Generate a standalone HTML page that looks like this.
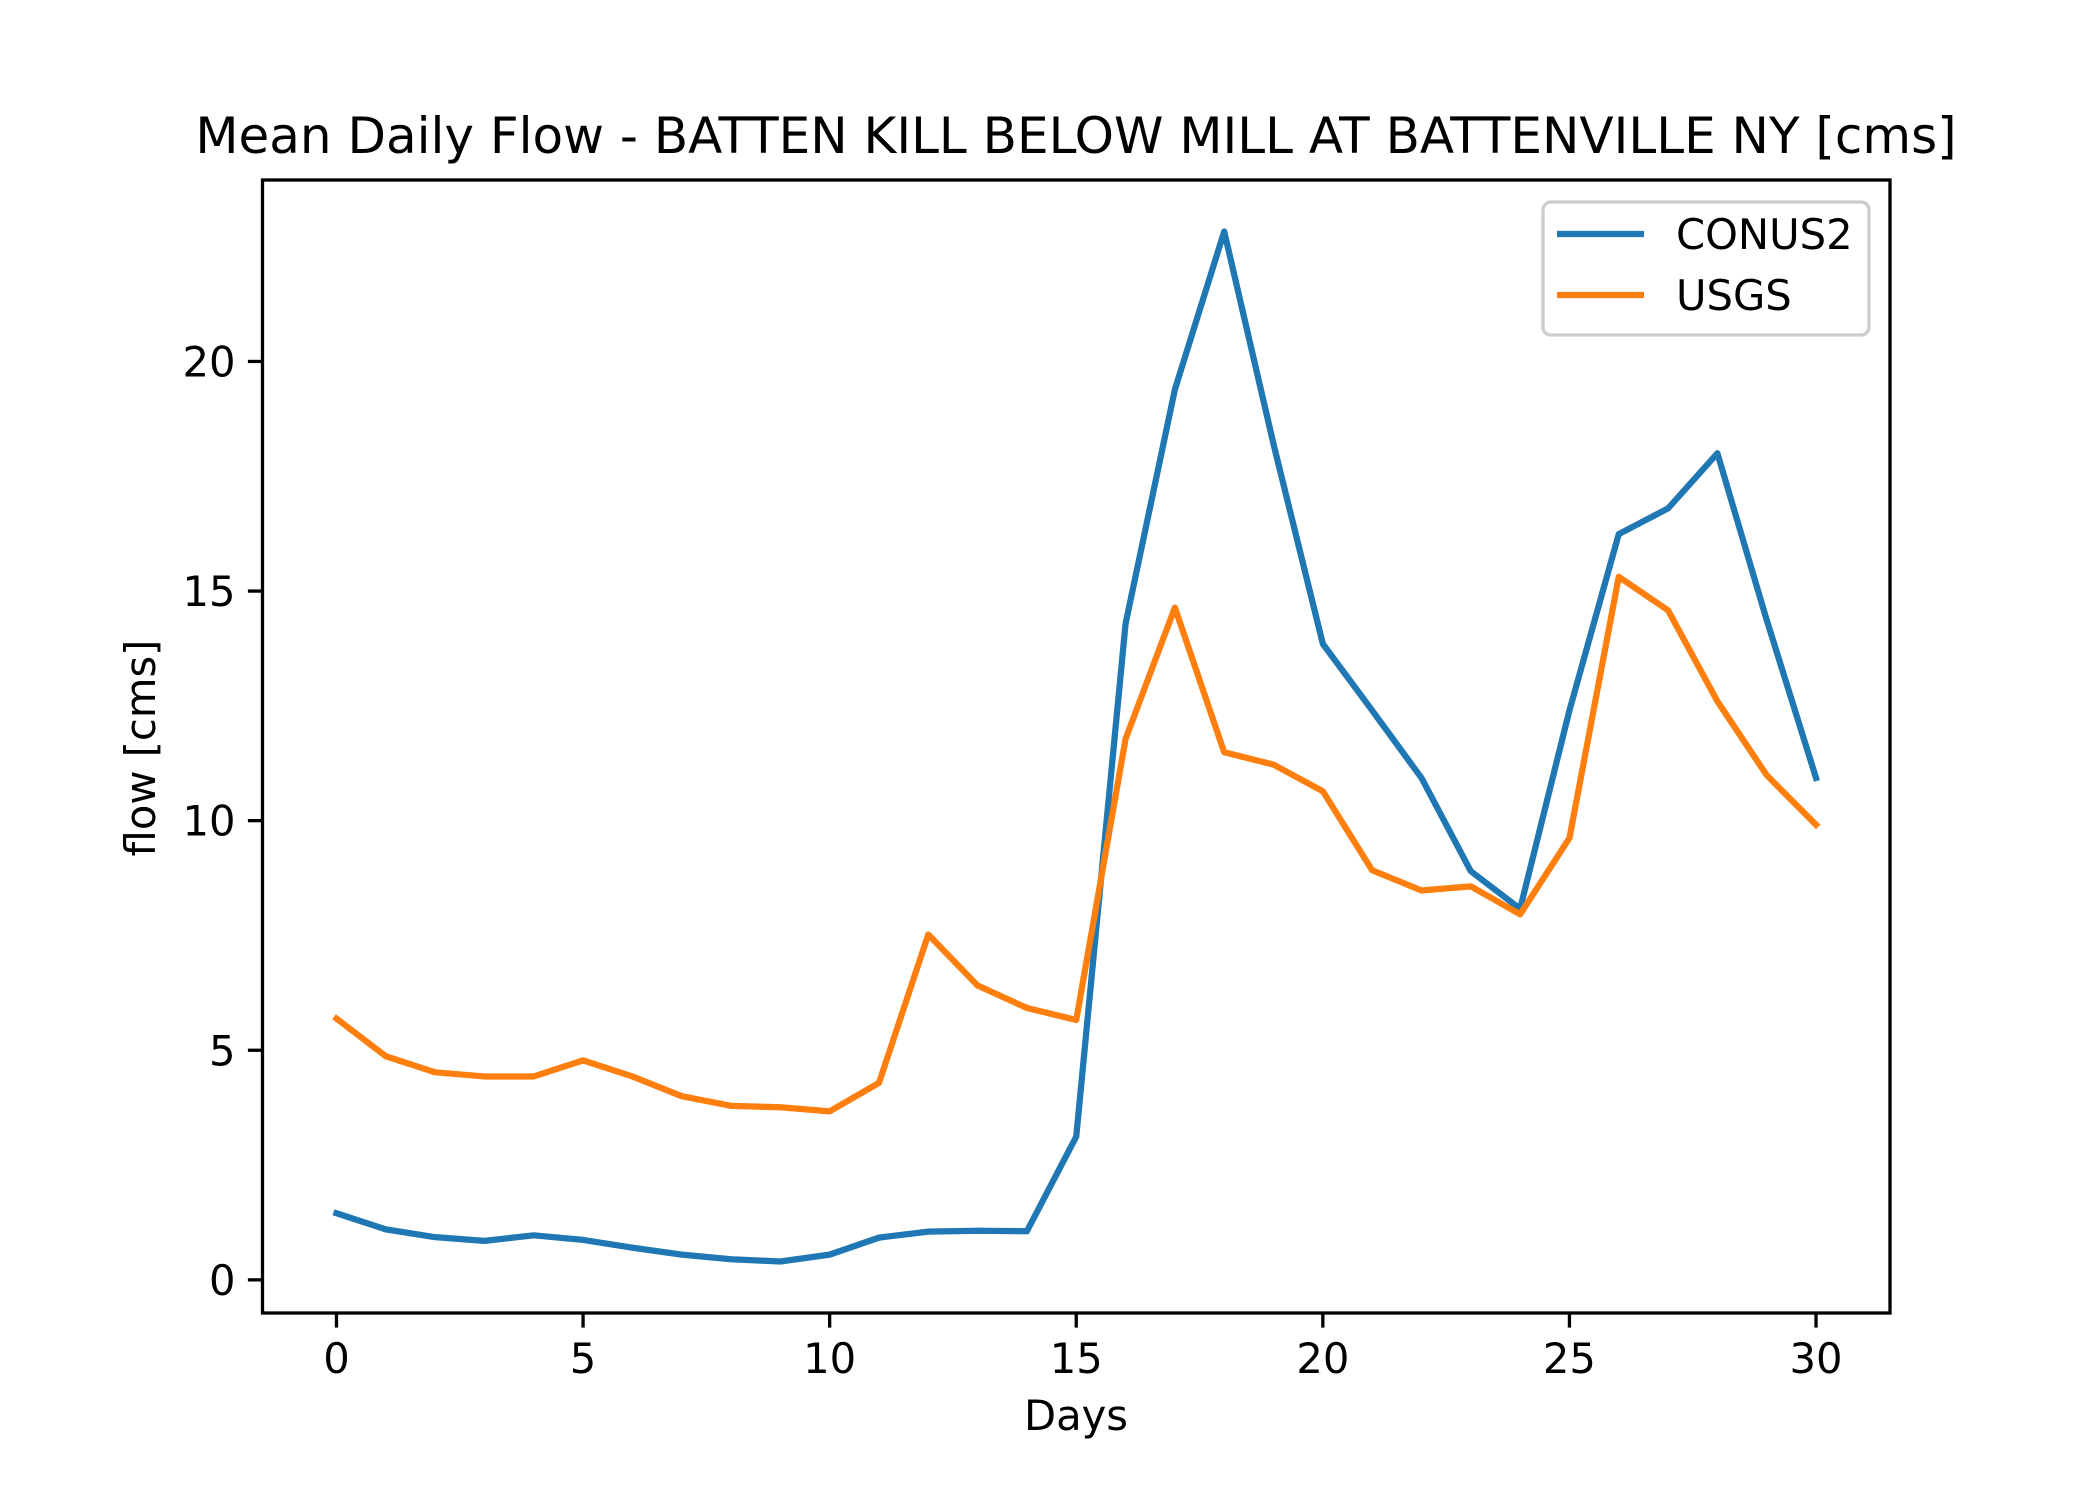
<!DOCTYPE html>
<html><head><meta charset="utf-8"><style>
html,body{margin:0;padding:0;background:#fff;}
svg{display:block;font-family:"DejaVu Sans","Liberation Sans",sans-serif;}
</style></head><body>
<svg id="chart" width="2100" height="1500" viewBox="0 0 2100 1500" xmlns="http://www.w3.org/2000/svg">
<rect width="2100" height="1500" fill="#fff"/>
<text x="1076" y="153" font-size="50" text-anchor="middle">Mean Daily Flow - BATTEN KILL BELOW MILL AT BATTENVILLE NY [cms]</text>
<g id="plot"></g>
<text x="1076" y="1430" font-size="41.7" text-anchor="middle">Days</text>
<text transform="translate(155,748) rotate(-90)" font-size="41.7" text-anchor="middle">flow [cms]</text>
</svg>
<script>
const days = [0,1,2,3,4,5,6,7,8,9,10,11,12,13,14,15,16,17,18,19,20,21,22,23,24,25,26,27,28,29,30];
const conus2 = [1.45,1.1,0.93,0.85,0.97,0.87,0.7,0.55,0.45,0.4,0.55,0.92,1.05,1.07,1.06,3.12,14.29,19.39,22.83,18.2,13.85,12.4,10.93,8.9,8.08,12.4,16.24,16.8,18.0,14.37,10.93];
const usgs = [5.69,4.87,4.52,4.43,4.43,4.78,4.43,4.0,3.79,3.76,3.67,4.29,7.52,6.41,5.92,5.66,11.78,14.64,11.49,11.22,10.64,8.92,8.48,8.57,7.96,9.62,15.31,14.58,12.6,10.99,9.91];
const xTicks = [0,5,10,15,20,25,30];
const yTicks = [0,5,10,15,20];
const seriesNames = ["CONUS2","USGS"];
const seriesColors = ["#1f77b4","#ff7f0e"];

const L=262.5,R=1890,T=180,B=1313;
const allX=days, allY=conus2.concat(usgs);
const xmin0=Math.min(...allX),xmax0=Math.max(...allX),ymin0=Math.min(...allY),ymax0=Math.max(...allY);
const xm=(xmax0-xmin0)*0.05, ym=(ymax0-ymin0)*0.05;
const xmin=xmin0-xm,xmax=xmax0+xm,ymin=ymin0-ym,ymax=ymax0+ym;
const sx=v=>L+(v-xmin)/(xmax-xmin)*(R-L);
const sy=v=>B-(v-ymin)/(ymax-ymin)*(B-T);
const NS="http://www.w3.org/2000/svg";
const g=document.getElementById('plot');
function mk(t,a){const e=document.createElementNS(NS,t);for(const k in a)e.setAttribute(k,a[k]);g.appendChild(e);return e;}

[conus2,usgs].forEach((s,i)=>{
  const p=mk('polyline',{points:s.map((v,j)=>sx(days[j])+','+sy(v)).join(' '),fill:'none',stroke:seriesColors[i],'stroke-width':6.25,'stroke-linejoin':'round','stroke-linecap':'square'});
  
  
});
const frame=mk('rect',{x:L,y:T,width:R-L,height:B-T,fill:'none',stroke:'#000','stroke-width':3.3});


xTicks.forEach(v=>{
  const t=mk('line',{x1:sx(v),x2:sx(v),y1:B,y2:B+14.6,stroke:'#000','stroke-width':3.3});
  
  
  const l=mk('text',{x:sx(v),y:B+60,'font-size':41.7,'text-anchor':'middle'});l.textContent=v;
  
  
});
yTicks.forEach(v=>{
  const t=mk('line',{x1:L-14.6,x2:L,y1:sy(v),y2:sy(v),stroke:'#000','stroke-width':3.3});
  
  
  const l=mk('text',{x:L-27,y:sy(v)+15,'font-size':41.7,'text-anchor':'end'});l.textContent=v;
  
  
});
const lg=mk('rect',{x:1543,y:202,width:326,height:133,rx:8,fill:'#fff','fill-opacity':0.8,stroke:'#ccc','stroke-width':3.3});


seriesNames.forEach((n,i)=>{
  const y=234+i*61;
  const ln=mk('line',{x1:1557,x2:1644,y1:y,y2:y,stroke:seriesColors[i],'stroke-width':6.25});
  
  
  const t=mk('text',{x:1676,y:y+15,'font-size':41.7});t.textContent=n;
  
  
});
</script>
</body></html>
